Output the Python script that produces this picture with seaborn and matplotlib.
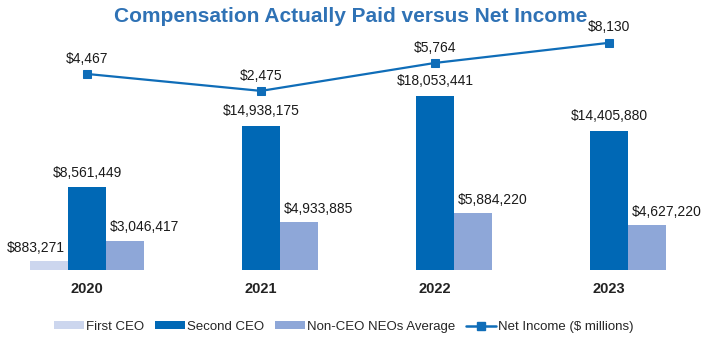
import numpy as np
import pandas as pd
import matplotlib
matplotlib.use("Agg")
import matplotlib.pyplot as plt
from matplotlib.patches import Patch
from matplotlib.lines import Line2D
import seaborn as sns

years = ["2020", "2021", "2022", "2023"]
series = ["First CEO", "Second CEO", "Non-CEO NEOs Average"]
first_ceo = [883271, np.nan, np.nan, np.nan]
second_ceo = [8561449, 14938175, 18053441, 14405880]
neo_avg = [3046417, 4933885, 5884220, 4627220]
net_income = [4467, 2475, 5764, 8130]
line_label = "Net Income ($ millions)"

colors = ["#CCD6EE", "#0068B5", "#8EA7D8"]
line_color = "#0F6DB8"
title_color = "#2F72B5"

sns.set_theme(style="white")
plt.rcParams['font.family'] = ['Liberation Sans', 'DejaVu Sans']

rows = []
for s, vals in zip(series, [first_ceo, second_ceo, neo_avg]):
    for y, v in zip(years, vals):
        rows.append({"year": y, "series": s, "value": v})
df = pd.DataFrame(rows)

fig = plt.figure(figsize=(7.01, 3.40), dpi=100)
ax = fig.add_axes([0.0, 0.206, 1.0, 0.706])
sns.barplot(data=df, x="year", y="value", hue="series", order=years,
            hue_order=series, palette=colors, width=0.66, gap=0,
            ax=ax, legend=False, saturation=1, edgecolor="none")
ax.set_xlim(-0.5, 3.529)
ax.set_ylim(0, 24.87e6)

# label anchor (fraction of bar width) and vertical padding (points) per series
anchor = [0.15, 0.5, 1.0]
pads = [4.5, 5.5, 4.5]
for k, cont in enumerate(ax.containers):
    for b in cont:
        h = b.get_height()
        if np.isnan(h) or h == 0:
            continue
        ax.annotate(f"${h:,.0f}", (b.get_x() + b.get_width() * anchor[k], h),
                    xytext=(0, pads[k]), textcoords="offset points",
                    ha="center", va="bottom", fontsize=10, color="#1a1a1a")

ax2 = ax.twinx()
ld = pd.DataFrame({"x": np.arange(len(years)), "ni": net_income})
sns.lineplot(data=ld, x="x", y="ni", ax=ax2, color=line_color, marker="s",
             markersize=6, markeredgecolor=line_color, linewidth=1.6)
ax2.set_ylim(-18588, 9647)
ax2.set_xlim(-0.5, 3.529)
for xi, v in zip(ld["x"], ld["ni"]):
    ax2.annotate(f"${v:,.0f}", (xi, v), xytext=(0, 6), textcoords="offset points",
                 ha="center", va="bottom", fontsize=10, color="#1a1a1a")

for a in (ax, ax2):
    for sp in a.spines.values():
        sp.set_visible(False)
    a.set_yticks([])
    a.set_ylabel("")
    a.set_xlabel("")
ax2.set_xticks([])
ax.set_xticks(range(len(years)))
ax.set_xticklabels(years, fontsize=10.5, fontweight="bold", color="#222222")
ax.tick_params(axis="x", length=0, pad=9)

fig.suptitle("Compensation Actually Paid versus Net Income", x=0.5, y=0.98,
             fontsize=15, fontweight="bold", color=title_color,
             family=['Liberation Sans', 'DejaVu Sans'])

handles = [Patch(facecolor=c, edgecolor="none") for c in colors]
handles.append(Line2D([0], [0], color=line_color, lw=1.8, marker="s", markersize=5.5))
fig.legend(handles, series + [line_label], loc="center", bbox_to_anchor=(0.49, 0.038),
           ncol=4, frameon=False, fontsize=9.5, handlelength=2.3, handleheight=0.55,
           columnspacing=0.8, handletextpad=0.15)

fig.savefig("out.png", dpi=100)
